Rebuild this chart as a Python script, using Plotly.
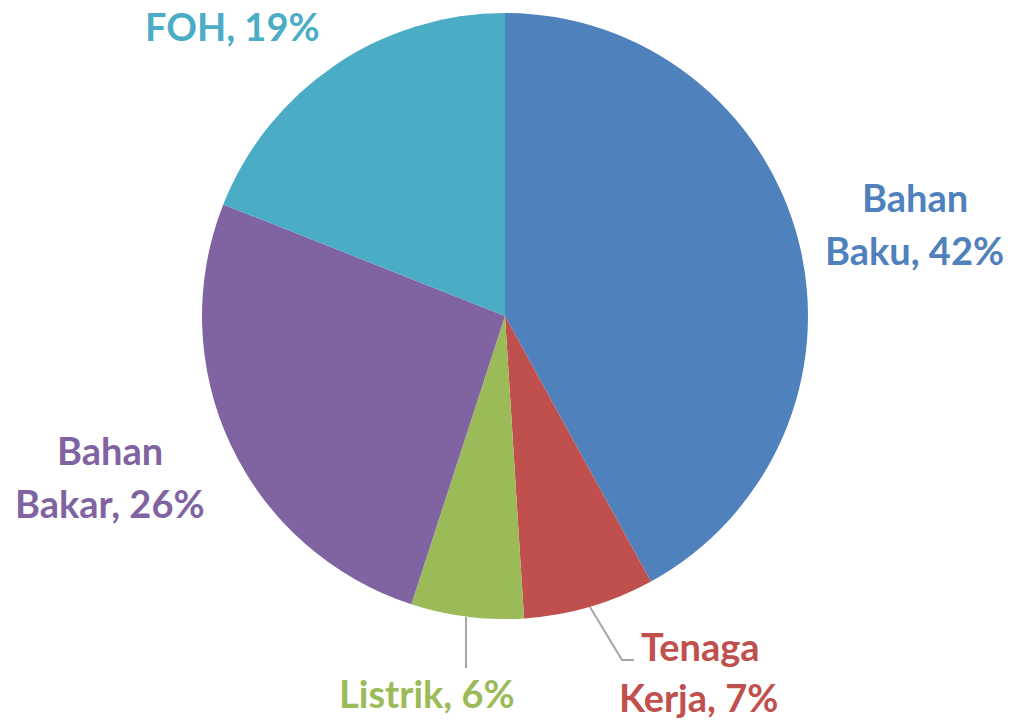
import plotly.graph_objects as go

categories = ["Bahan Baku", "Tenaga Kerja", "Listrik", "Bahan Bakar", "FOH"]
values = [42, 7, 6, 26, 19]
colors = ["#4F81BD", "#C0504D", "#9BBB59", "#8064A2", "#4BACC6"]

W, H = 1012, 721

# label line layout: (category index, list of (text, x_px, y_px))
label_lines = [
    (0, [("Bahan", 915, 197), ("Baku, {v}%", 914, 250)]),
    (1, [("Tenaga", 700, 646), ("Kerja, {v}%", 698, 697)]),
    (2, [("Listrik, {v}%", 427, 693)]),
    (3, [("Bahan", 110, 450), ("Bakar, {v}%", 110, 503)]),
    (4, [("FOH, {v}%", 232, 26)]),
]

cx, cy, r = 505, 316, 303

fig = go.Figure(go.Pie(
    labels=categories,
    values=values,
    marker=dict(colors=colors, line=dict(width=0)),
    sort=False,
    direction="clockwise",
    rotation=0,
    textinfo="none",
    hoverinfo="label+percent",
    showlegend=False,
    domain=dict(x=[(cx - r) / W, (cx + r) / W], y=[(H - cy - r) / H, (H - cy + r) / H]),
))

annotations = []
for idx, lines in label_lines:
    for text, x, y in lines:
        annotations.append(dict(
            text="<b>" + text.format(v=values[idx]) + "</b>",
            x=x / W, y=1 - y / H, xref="paper", yref="paper",
            xanchor="center", yanchor="middle", showarrow=False,
            font=dict(family="Lato", size=38, color=colors[idx]),
        ))

def px_line(points):
    path = "M " + " L ".join(f"{x / W},{1 - y / H}" for x, y in points)
    return dict(type="path", path=path, xref="paper", yref="paper",
                line=dict(color="#A6A6A6", width=2))

shapes = [
    px_line([(590, 607), (622, 660), (634, 660)]),
    px_line([(466, 617), (466, 668)]),
]

fig.update_layout(
    width=W, height=H,
    margin=dict(l=0, r=0, t=0, b=0),
    paper_bgcolor="white", plot_bgcolor="white",
    annotations=annotations,
    shapes=shapes,
)

fig.write_html(
    "out.html",
    config={"displayModeBar": False},
    post_script="document.body.style.margin='0';document.body.style.overflow='hidden';",
)
